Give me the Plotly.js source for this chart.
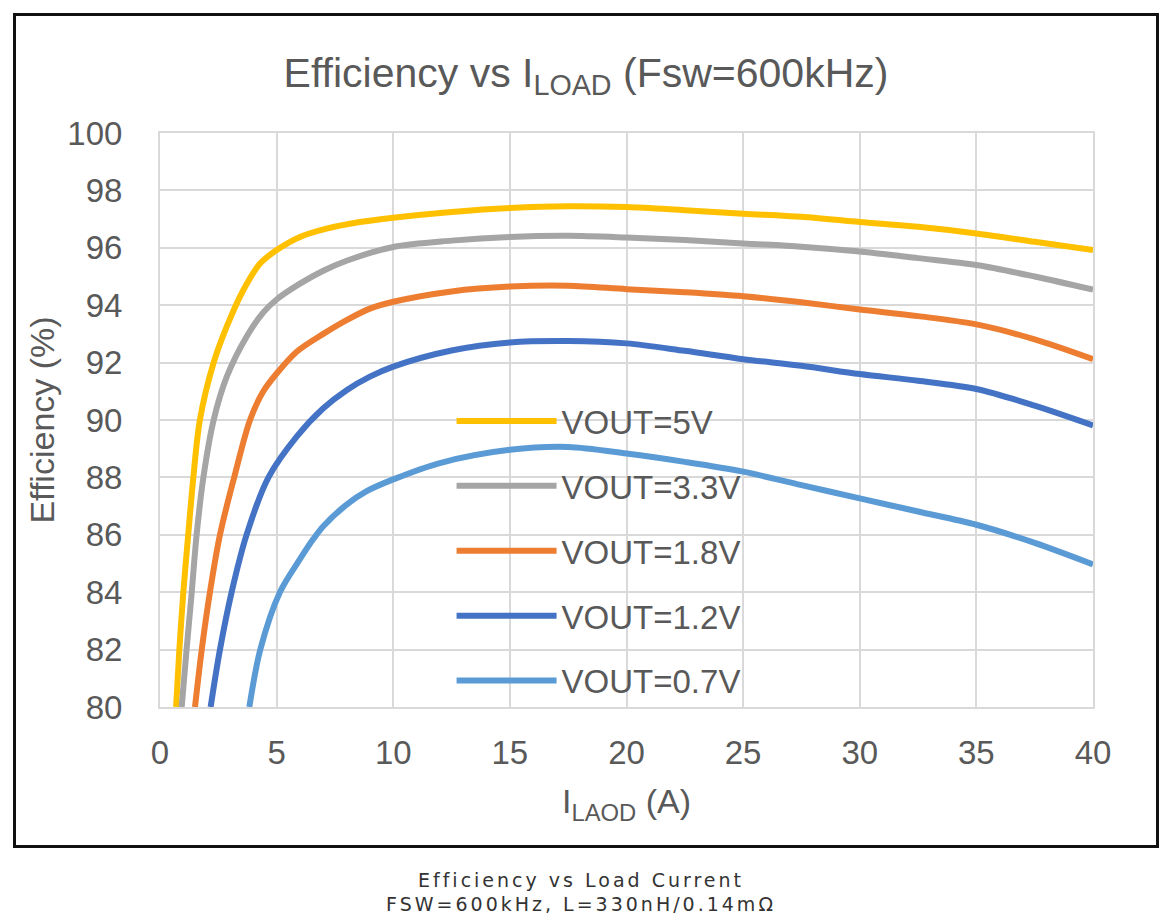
<!DOCTYPE html>
<html>
<head>
<meta charset="utf-8">
<script src="https://cdn.plot.ly/plotly-3.0.1.min.js"></script>
<style>
    body { margin: 0; background: #fff; }
    #frame {
        position: absolute;
        left: 13px;
        top: 13px;
        width: 1140px;
        height: 829px;
        border: 3px solid #111;
    }
    #chart { width: 1140px; height: 829px; }
    #caption {
        position: absolute;
        left: 0;
        top: 868px;
        width: 1162px;
        text-align: center;
        font-family: "DejaVu Sans", "Noto Sans", sans-serif;
        font-size: 19px;
        line-height: 24px;
        letter-spacing: 3px;
        color: #333;
    }
</style>
</head>
<body>
<div id="frame"><div id="chart"></div></div>
<div id="caption">Efficiency vs Load Current<br>FSW=600kHz, L=330nH/0.14mΩ</div>
<script>
    // Series labels and colours
    const seriesNames = ['VOUT=5V', 'VOUT=3.3V', 'VOUT=1.8V', 'VOUT=1.2V', 'VOUT=0.7V'];
    const seriesColors = ['#FFC000', '#A5A5A5', '#ED7D31', '#4472C4', '#5B9BD5'];

    // Load current (A) and efficiency (%)
    const iload5v0 = [0.69, 0.83, 1.0, 1.21, 1.43, 1.71, 2.29, 2.86, 3.57, 4.29, 5, 6, 7.14, 8.57, 10, 12.5, 15, 17.5, 20, 22.5, 25, 27.5, 30, 32.5, 35, 37.5, 40];
    const eff5v0 = [80, 82, 84, 86, 88, 90, 91.97, 93.25, 94.52, 95.45, 95.92, 96.38, 96.67, 96.9, 97.05, 97.25, 97.39, 97.45, 97.42, 97.31, 97.19, 97.08, 96.9, 96.73, 96.5, 96.21, 95.92];

    const iload3v3 = [0.93, 1.14, 1.36, 1.57, 1.86, 2.3, 2.86, 3.71, 4.43, 5, 6, 7, 8, 10, 12.5, 15, 17.5, 20, 22.5, 25, 27.5, 30, 32.5, 35, 37.5, 40];
    const eff3v3 = [80, 82, 84, 86, 88, 90, 91.5, 92.9, 93.75, 94.2, 94.75, 95.2, 95.55, 96.03, 96.25, 96.38, 96.42, 96.36, 96.27, 96.15, 96.04, 95.87, 95.64, 95.4, 95.0, 94.54];

    const iload1v8 = [1.5, 1.79, 2.14, 2.57, 3.18, 3.86, 4.43, 5, 5.86, 7, 8, 9, 10, 12.5, 15, 17.5, 20, 22.5, 25, 27.5, 30, 32.5, 35, 37.5, 40];
    const eff1v8 = [80, 82, 84, 86, 88, 90, 91.0, 91.62, 92.38, 93.0, 93.48, 93.88, 94.12, 94.48, 94.65, 94.68, 94.56, 94.45, 94.31, 94.1, 93.85, 93.62, 93.33, 92.81, 92.12];

    const iload1v2 = [2.17, 2.57, 3.07, 3.71, 4.65, 5.86, 7, 8, 9, 10, 12.5, 15, 17.5, 20, 22.5, 25, 27.5, 30, 32.5, 35, 37.5, 40];
    const eff1v2 = [80, 82, 84, 86, 88, 89.42, 90.41, 91.04, 91.51, 91.86, 92.42, 92.7, 92.75, 92.67, 92.41, 92.12, 91.89, 91.6, 91.37, 91.08, 90.5, 89.81];

    const iload0v7 = [3.83, 4.3, 5.14, 6.0, 6.57, 7, 8, 8.86, 10, 12, 15, 17.5, 20, 22.5, 25, 27.5, 30, 32.5, 35, 37.5, 40];
    const eff0v7 = [80, 82, 84, 85.15, 85.85, 86.3, 87.05, 87.52, 87.93, 88.5, 88.96, 89.06, 88.83, 88.54, 88.2, 87.73, 87.27, 86.81, 86.35, 85.72, 84.97];

    const xTicks = [0, 5, 10, 15, 20, 25, 30, 35, 40];
    const yTicks = [80, 82, 84, 86, 88, 90, 92, 94, 96, 98, 100];

    const xSets = [iload5v0, iload3v3, iload1v8, iload1v2, iload0v7];
    const ySets = [eff5v0, eff3v3, eff1v8, eff1v2, eff0v7];

    const textColor = '#595959';
    const gridColor = '#D9D9D9';
    const fontFamily = 'Arial, "Liberation Sans", sans-serif';

    const traces = seriesNames.map(function(name, i) {
        return {
            x: xSets[i],
            y: ySets[i],
            name: name,
            legendgroup: 'g' + i,
            type: 'scatter',
            mode: 'lines',
            line: { color: seriesColors[i], width: 6, shape: 'spline', smoothing: 0.9 },
            hoverinfo: 'x+y+name'
        };
    });

    const axisCommon = {
        showgrid: true,
        gridcolor: gridColor,
        gridwidth: 2,
        showline: true,
        linecolor: gridColor,
        linewidth: 2,
        mirror: true,
        zeroline: false,
        ticks: '',
        tickfont: { family: fontFamily, size: 33, color: textColor }
    };

    const layout = {
        width: 1140,
        height: 829,
        margin: { l: 144, r: 63, t: 117, b: 138 },
        paper_bgcolor: '#ffffff',
        plot_bgcolor: '#ffffff',
        font: { family: fontFamily, color: textColor },
        title: {
            text: 'Efficiency vs I<sub>LOAD</sub> (Fsw=600kHz)',
            font: { family: fontFamily, size: 41, color: textColor },
            x: 0.5,
            xanchor: 'center',
            y: 0.932,
            yanchor: 'middle',
            yref: 'container'
        },
        xaxis: Object.assign({}, axisCommon, {
            range: [0, 40],
            tickvals: xTicks,
            ticktext: xTicks.map(String),
            ticklabelstandoff: 15,
            title: {
                text: 'I<sub>LAOD</sub> (A)',
                font: { family: fontFamily, size: 34, color: textColor },
                standoff: 20
            }
        }),
        yaxis: Object.assign({}, axisCommon, {
            range: [80, 100],
            tickvals: yTicks,
            ticktext: yTicks.map(String),
            ticklabelstandoff: 29,
            title: {
                text: 'Efficiency (%)',
                font: { family: fontFamily, size: 34, color: textColor },
                standoff: 2
            }
        }),
        showlegend: true,
        legend: {
            x: 0.3125,
            y: 0.547,
            xanchor: 'left',
            yanchor: 'top',
            bgcolor: 'rgba(0,0,0,0)',
            borderwidth: 0,
            traceorder: 'grouped',
            tracegroupgap: 19,
            itemwidth: 100,
            font: { family: fontFamily, size: 33, color: textColor }
        }
    };

    const config = { displayModeBar: false, responsive: false };

    Plotly.newPlot('chart', traces, layout, config);
</script>
</body>
</html>
